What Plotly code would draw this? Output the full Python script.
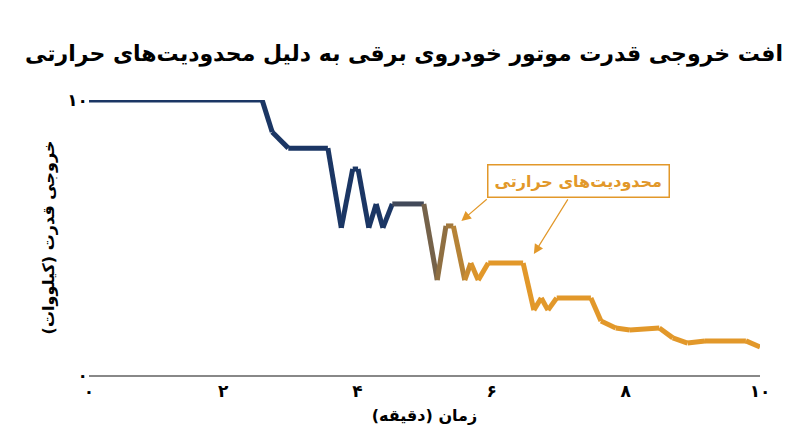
import plotly.graph_objects as go

# time (minutes) and motor output (kW)
time_min = [0, 2.58, 2.73, 2.97, 3.56, 3.76, 3.93, 4.01, 4.17, 4.28, 4.38, 4.52, 4.99,
            5.19, 5.32, 5.43, 5.6, 5.69, 5.8, 5.95, 6.47, 6.63, 6.74, 6.84, 6.97, 7.48,
            7.63, 7.85, 8.06, 8.5, 8.7, 8.92, 9.18, 9.79, 10]
power_kw = [10, 10, 8.84, 8.25, 8.25, 5.35, 7.49, 7.49, 5.35, 6.22, 5.35, 6.22, 6.22,
            3.45, 5.42, 5.42, 3.45, 4.07, 3.45, 4.07, 4.07, 2.36, 2.8, 2.36, 2.8, 2.8,
            1.96, 1.71, 1.64, 1.71, 1.35, 1.16, 1.24, 1.24, 1.02]
x_ticks = [0, 2, 4, 6, 8, 10]
x_labels = ["<b>۰</b>", "<b>۲</b>", "<b>۴</b>", "<b>۶</b>", "<b>۸</b>", "<b>۱۰</b>"]
y_ticks = [0, 10]
y_labels = ["<b>۰</b>", "<b>۱۰</b>"]

NAVY = (27, 54, 100)
GOLD = (226, 152, 42)
FONT = "DejaVu Sans"


def blend(x):
    # navy until ~4.5 min, gold after ~5.8 min
    t = min(max((x - 4.5) / 1.3, 0), 1)
    c = [round(a + (b - a) * t) for a, b in zip(NAVY, GOLD)]
    return f"rgb({c[0]},{c[1]},{c[2]})"


fig = go.Figure()
for i in range(len(time_min) - 1):
    xm = (time_min[i] + time_min[i + 1]) / 2
    fig.add_trace(go.Scatter(
        x=time_min[i:i + 2], y=power_kw[i:i + 2], mode="lines",
        line=dict(color=blend(xm), width=5), showlegend=False, hoverinfo="skip"))

gold = f"rgb{GOLD}"
fig.add_annotation(x=7.29, y=7.07, xref="x", yref="y", text="<b>محدودیت‌های حرارتی</b>",
                   showarrow=False, font=dict(family=FONT, size=16, color=gold),
                   bordercolor=gold, borderwidth=1.5, borderpad=6, bgcolor="white")
for tx, ty, hx, hy in [(5.95, 6.44, 5.55, 5.6), (7.15, 6.44, 6.63, 4.4)]:
    fig.add_annotation(x=hx, y=hy, ax=tx, ay=ty, xref="x", yref="y", axref="x", ayref="y",
                       text="", showarrow=True, arrowhead=2, arrowsize=1.6, arrowwidth=1.2,
                       arrowcolor=gold)

fig.update_layout(
    width=800, height=447, plot_bgcolor="white", paper_bgcolor="white",
    margin=dict(l=81, r=48, t=92, b=80),
    title=dict(text="<b>افت خروجی قدرت موتور خودروی برقی به دلیل محدودیت‌های حرارتی</b>",
               x=0.495, y=0.915, xanchor="center", font=dict(family=FONT, size=22, color="black")),
    font=dict(family=FONT, color="black"),
)
fig.update_xaxes(range=[0, 10], tickvals=x_ticks, ticktext=x_labels, showgrid=False,
                 showline=True, linecolor="#888", linewidth=1.5, zeroline=False,
                 tickfont=dict(size=17), ticks="", automargin=False,
                 title=dict(text="<b>زمان (دقیقه)</b>", font=dict(size=16), standoff=10))
fig.update_yaxes(range=[0, 10], tickvals=y_ticks, ticktext=y_labels, showgrid=True,
                 gridcolor="#ddd", zeroline=False, tickfont=dict(size=17), ticks="",
                 automargin=False,
                 title=dict(text="<b>خروجی قدرت (کیلووات)</b>", font=dict(size=16), standoff=8))

fig.write_html("out.html")
